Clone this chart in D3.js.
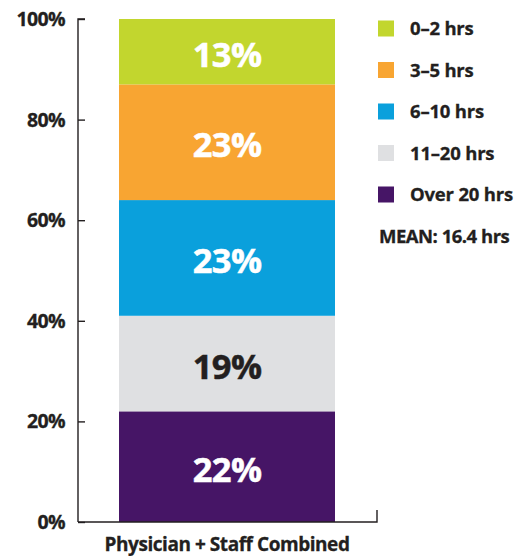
<!DOCTYPE html>
<html><head><meta charset="utf-8">
<script src="https://cdn.jsdelivr.net/npm/d3@7"></script>
<style>
body{margin:0;background:#fff;}
text{font-family:"Open Sans",sans-serif;font-weight:700;}
</style></head>
<body><svg id="c" width="525" height="556"></svg>
<script>
const category = "Physician + Staff Combined";
const seriesNames = ["Over 20 hrs","11–20 hrs","6–10 hrs","3–5 hrs","0–2 hrs"];
const seriesValues = [22,19,23,23,13];
const seriesColors = ["#461566","#dfe0e2","#0aa0dc","#f8a532","#c2d62e"];
const labelColors = ["#fff","#231f20","#fff","#fff","#fff"];
const legendOrder = ["0–2 hrs","3–5 hrs","6–10 hrs","11–20 hrs","Over 20 hrs"];
const tickValues = [0,20,40,60,80,100];
const meanText = "MEAN: 16.4 hrs";

const svg = d3.select("#c");
const ink = "#231f20";
const y = d3.scaleLinear().domain([0,100]).range([522,19]);

let acc = 0;
const stack = seriesValues.map((v,i)=>{const d={name:seriesNames[i],v,y0:acc,y1:acc+v,color:seriesColors[i],lc:labelColors[i]};acc+=v;return d;});
stack[stack.length-1].y1 = 100;

const bx = 119, bw = 216;
svg.selectAll("rect.seg").data(stack).join("rect")
  .attr("x",bx).attr("width",bw)
  .attr("y",d=>y(d.y1)).attr("height",d=>y(d.y0)-y(d.y1))
  .attr("fill",d=>d.color);

svg.selectAll("text.lab").data(stack).join("text")
  .attr("x",bx+bw/2).attr("y",d=>(y(d.y0)+y(d.y1))/2+15)
  .attr("text-anchor","middle").attr("font-size",34.5).attr("fill",d=>d.lc)
  .attr("letter-spacing","-0.6").attr("stroke",d=>d.lc).attr("stroke-width",0.5)
  .text(d=>d.v+"%");

const yAxis = d3.axisRight(y).tickValues(tickValues).tickSize(7).tickFormat("");
const ga = svg.append("g").attr("transform","translate(78,0)").call(yAxis);
ga.selectAll("path,line").attr("stroke",ink).attr("stroke-width",1.4);
ga.select("path").attr("d",`M7,${y(100)}H0V${y(0)}`);
svg.selectAll("text.tick").data(tickValues).join("text")
  .attr("x",65).attr("y",d=>y(d)+7).attr("text-anchor","end")
  .attr("font-size",19.5).attr("fill",ink).attr("letter-spacing","-0.6")
  .attr("stroke",ink).attr("stroke-width",0.3)
  .text(d=>d+"%");

svg.append("path").attr("d",`M78,${y(0)}H377V${y(0)-12}`).attr("fill","none").attr("stroke",ink).attr("stroke-width",1.4);
svg.append("text").attr("x",227).attr("y",551).attr("text-anchor","middle")
  .attr("font-size",19).attr("fill",ink).attr("letter-spacing","-0.45")
  .attr("stroke",ink).attr("stroke-width",0.3).text(category);

const colorByName = {};
seriesNames.forEach((n,i)=>colorByName[n]=seriesColors[i]);
const lg = svg.append("g");
legendOrder.forEach((n,i)=>{
  const cy = 28.5 + i*41.5;
  lg.append("rect").attr("x",378).attr("y",cy-8).attr("width",16).attr("height",16).attr("fill",colorByName[n]);
  lg.append("text").attr("x",410).attr("y",cy+6.5).attr("font-size",18.5).attr("fill",ink).attr("letter-spacing","-0.2")
    .attr("stroke",ink).attr("stroke-width",0.3).text(n);
});
lg.append("text").attr("x",379).attr("y",28.5+5*41.5+6.5).attr("font-size",18.5).attr("fill",ink).attr("letter-spacing","-0.5")
  .attr("stroke",ink).attr("stroke-width",0.3).text(meanText);
</script></body></html>
